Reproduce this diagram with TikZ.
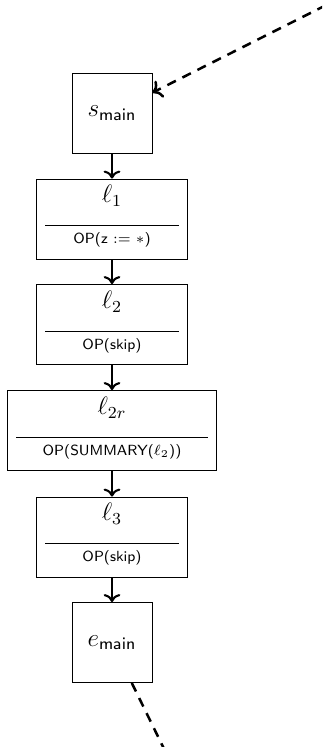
\documentclass[tikz,border=0pt]{standalone}
\usepackage{amsmath}
\usepackage{amssymb}
\usepackage{tikz}
\usetikzlibrary{calc}
\usetikzlibrary{arrows.meta}
\usetikzlibrary{positioning}

\tikzset{
	blockBox/.style={draw, rectangle, minimum height=38.1pt, inner sep=0pt},
	flowArrow/.style={line width=1pt, ->},
	callArrow/.style={line width=1.2pt, dash pattern=on 4.5pt off 3.5pt}
}

% #1 name, #2 position, #3 width, #4 label, #5 operation
\newcommand{\stmtBox}[5]{%
		\node [blockBox, minimum width=#3] (#1) at #2 {};
		\draw ($(#1.north west) + (4.3pt,-22.4pt)$) -- ($(#1.north east) + (-4.3pt,-22.4pt)$);
		\node [anchor=base, inner sep=0pt] (#1-lab) at ($(#1.north) + (0,-11.6pt)$) {\large $#4$};
		\node [anchor=base, inner sep=0pt] (#1-op) at ($(#1.north) + (0,-31pt)$) {\scriptsize\textsf{#5}};
}

\begin{document}
\begin{tikzpicture}[x=0.476pt, y=-0.476pt]
	
		\useasboundingbox (0,0) rectangle (322,747);
		\clip (0,0) rectangle (322,747);
		
		\node [blockBox, minimum width=38.1pt] (smain) at (112,113) {\large $s_{\mathsf{main}}$};
		\stmtBox{l1}{(112,219)}{71.9pt}{\ell_1}{OP(z $:=$ $\ast$)} %z
		\stmtBox{l2}{(112,324.5)}{71.9pt}{\ell_2}{OP(skip)}
		\stmtBox{l2r}{(112,430.5)}{99.5pt}{\ell_{2r}}{OP(SUMMARY($\ell_2$))} %summary
		\stmtBox{l3}{(112,537)}{71.9pt}{\ell_3}{OP(skip)}
		\node [blockBox, minimum width=38.1pt] (emain) at (112,642.5) {\large $e_{\mathsf{main}}$};
		
		\draw [flowArrow] (smain) -- (l1);
		\draw [flowArrow] (l1) -- (l2);
		\draw [flowArrow] (l2) -- (l2r);
		\draw [flowArrow] (l2r) -- (l3);
		\draw [flowArrow] (l3) -- (emain);
		
		\coordinate (callIn) at (491,-78);
		\coordinate (callOut) at (214,851);
		
		\draw [callArrow, ->] (callIn) -- (smain);
		\draw [callArrow] (emain) -- (callOut);
	\end{tikzpicture}
\end{document}
